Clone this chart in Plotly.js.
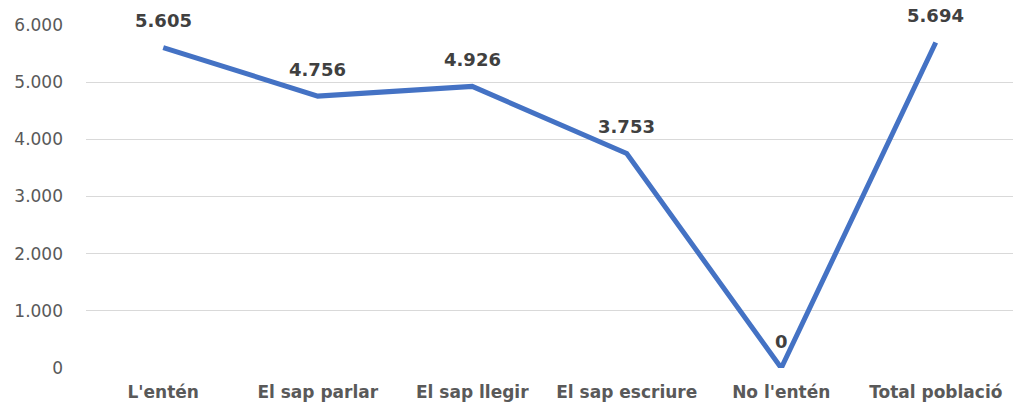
<!DOCTYPE html>
<html><head><meta charset="utf-8">
<script src="https://cdn.plot.ly/plotly-3.0.1.min.js"></script>
<style>html,body{margin:0;padding:0;background:#fff;}#chart{width:1013px;height:405px;}</style>
</head><body><div id="chart"></div>
<script>
const categories = ["L'entén", "El sap parlar", "El sap llegir", "El sap escriure", "No l'entén", "Total població"];
const values = [5605, 4756, 4926, 3753, 0, 5694];
const yTicks = [0, 1000, 2000, 3000, 4000, 5000, 6000];

function fmt(v){ return String(v).replace(/\B(?=(\d{3})+(?!\d))/g, "."); }

const trace = {
  x: categories, y: values, type: 'scatter', mode: 'lines',
  line: {color: '#4472C4', width: 5}, hoverinfo: 'none'
};
const annotations = categories.map((c, i) => ({
  x: c, y: values[i], text: '<b>' + fmt(values[i]) + '</b>', showarrow: false,
  yshift: 27, xanchor: 'center', yanchor: 'middle',
  font: {family: 'DejaVu Sans, Verdana, sans-serif', size: 18, color: '#404040'}
}));
const layout = {
  width: 1013, height: 405,
  margin: {l: 86, r: 0, t: 25, b: 37},
  paper_bgcolor: '#fff', plot_bgcolor: '#fff',
  showlegend: false,
  separators: ',.',
  xaxis: {
    type: 'category', range: [-0.5, 5.5], showgrid: false, zeroline: false, showline: false, ticks: '',
    tickfont: {family: 'DejaVu Sans, Verdana, sans-serif', size: 17, color: '#595959', weight: 'bold'},
    ticklabelstandoff: 12
  },
  yaxis: {
    range: [0, 6000], tickvals: yTicks, ticktext: yTicks.map(fmt),
    showgrid: true, gridcolor: '#d9d9d9', gridwidth: 1.3, zeroline: false, showline: false,
    tickfont: {family: 'DejaVu Sans, Verdana, sans-serif', size: 17, color: '#595959'},
    ticklabelstandoff: 22
  },
  annotations: annotations
};
Plotly.newPlot('chart', [trace], layout, {staticPlot: true, displayModeBar: false});
</script></body></html>
